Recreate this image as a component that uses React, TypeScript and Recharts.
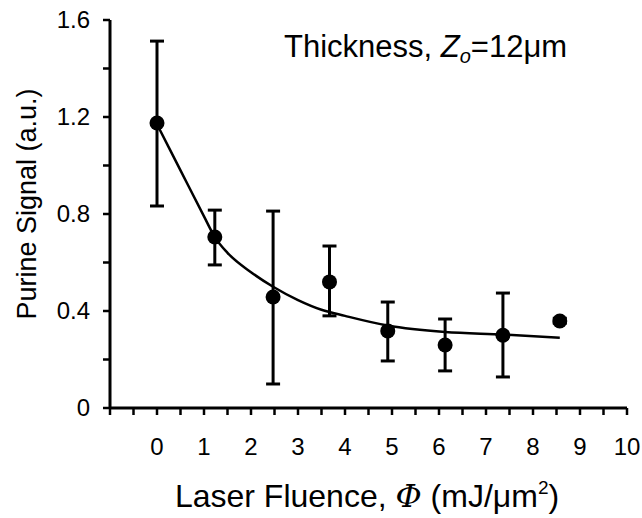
import { ComposedChart, Scatter, Line, XAxis, YAxis, ErrorBar, Customized } from 'recharts';

// measured points: laser fluence (mJ/um^2) vs purine signal (a.u.)
const fluence = [0, 1.23, 2.47, 3.67, 4.91, 6.13, 7.36, 8.57];
const signal = [1.175, 0.705, 0.458, 0.52, 0.318, 0.26, 0.3, 0.359];
const signalHigh = [1.513, 0.816, 0.812, 0.668, 0.437, 0.367, 0.474, 0.37];
const signalLow = [0.833, 0.59, 0.099, 0.38, 0.194, 0.153, 0.128, 0.35];

// fitted curve
const fitFluence = [0, 0.5, 1, 1.23, 1.5, 2, 2.47, 3, 3.5, 4, 4.91, 6.13, 7.36, 8.57];
const fitSignal = [1.17, 0.98, 0.79, 0.705, 0.64, 0.56, 0.5, 0.445, 0.405, 0.38, 0.34, 0.313, 0.303, 0.29];

const xTicks = [-1, -0.5, 0, 0.5, 1, 1.5, 2, 2.5, 3, 3.5, 4, 4.5, 5, 5.5, 6, 6.5, 7, 7.5, 8, 8.5, 9, 9.5, 10];
const xLabels = [0, 1, 2, 3, 4, 5, 6, 7, 8, 9, 10];
const yTicks = [0, 0.2, 0.4, 0.6, 0.8, 1, 1.2, 1.4, 1.6];
const yLabels = [0, 0.4, 0.8, 1.2, 1.6];

const points = fluence.map((x, i) => ({
  x,
  y: signal[i],
  err: [signal[i] - signalLow[i], signalHigh[i] - signal[i]],
}));
const fit = fitFluence.map((x, i) => ({ x, y: fitSignal[i] }));

const FONT = '"Liberation Sans", Arial, Helvetica, sans-serif';

const XTick = (props: any) => {
  const { x, y, payload } = props;
  if (!xLabels.includes(payload.value)) return <g />;
  return (
    <text x={x} y={y + 40} textAnchor="middle" fontSize={24} fontFamily={FONT} fill="#000">
      {payload.value}
    </text>
  );
};

const YTick = (props: any) => {
  const { x, y, payload } = props;
  if (!yLabels.includes(payload.value)) return <g />;
  const v = payload.value;
  return (
    <text x={x} y={y} dy="0.35em" textAnchor="end" fontSize={24} fontFamily={FONT} fill="#000">
      {v === 0 ? '0' : v.toFixed(1)}
    </text>
  );
};

const Dot = (props: any) => <circle cx={props.cx} cy={props.cy} r={7.5} fill="#000" />;

const Titles = () => (
  <g fontFamily={FONT} fill="#000">
    <text x={284} y={57} fontSize={31}>
      Thickness,{' '}
      <tspan fontStyle="italic">Z</tspan>
      <tspan fontStyle="italic" fontSize={20} dy={6}>o</tspan>
      <tspan dy={-6}>=12μm</tspan>
    </text>
    <text x={367} y={507} fontSize={32} textAnchor="middle">
      Laser Fluence,{' '}
      <tspan fontStyle="italic" fontFamily="'DejaVu Serif', serif">Φ</tspan>
      {' '}(mJ/μm
      <tspan fontSize={19} dy={-13}>2</tspan>
      <tspan dy={13}>)</tspan>
    </text>
    <text x={36} y={204} fontSize={27} textAnchor="middle" transform="rotate(-90 36 204)">
      Purine Signal (a.u.)
    </text>
  </g>
);

export default function App() {
  return (
    <div style={{ position: 'absolute', left: 0, top: 0, width: 642, height: 518, background: '#fff' }}>
      <ComposedChart width={642} height={518} margin={{ top: 20, right: 15, bottom: 0, left: 0 }}>
        <XAxis
          type="number"
          dataKey="x"
          domain={[-1, 10]}
          ticks={xTicks}
          interval={0}
          height={110}
          tickSize={7}
          tickMargin={0}
          tick={<XTick />}
          axisLine={{ stroke: '#000', strokeWidth: 3 }}
          tickLine={{ stroke: '#000', strokeWidth: 2.5 }}
          allowDataOverflow
        />
        <YAxis
          type="number"
          domain={[0, 1.6]}
          ticks={yTicks}
          interval={0}
          width={110}
          tickSize={7}
          tickMargin={13}
          tick={<YTick />}
          axisLine={{ stroke: '#000', strokeWidth: 3 }}
          tickLine={{ stroke: '#000', strokeWidth: 2.5 }}
          allowDataOverflow
        />
        <Line
          data={fit}
          dataKey="y"
          type="monotone"
          stroke="#000"
          strokeWidth={2.5}
          dot={false}
          activeDot={false}
          isAnimationActive={false}
        />
        <Scatter data={points} dataKey="y" fill="#000" shape={<Dot />} isAnimationActive={false}>
          <ErrorBar dataKey="err" direction="y" width={7} stroke="#000" strokeWidth={3} />
        </Scatter>
        <Customized component={Titles} />
      </ComposedChart>
    </div>
  );
}
